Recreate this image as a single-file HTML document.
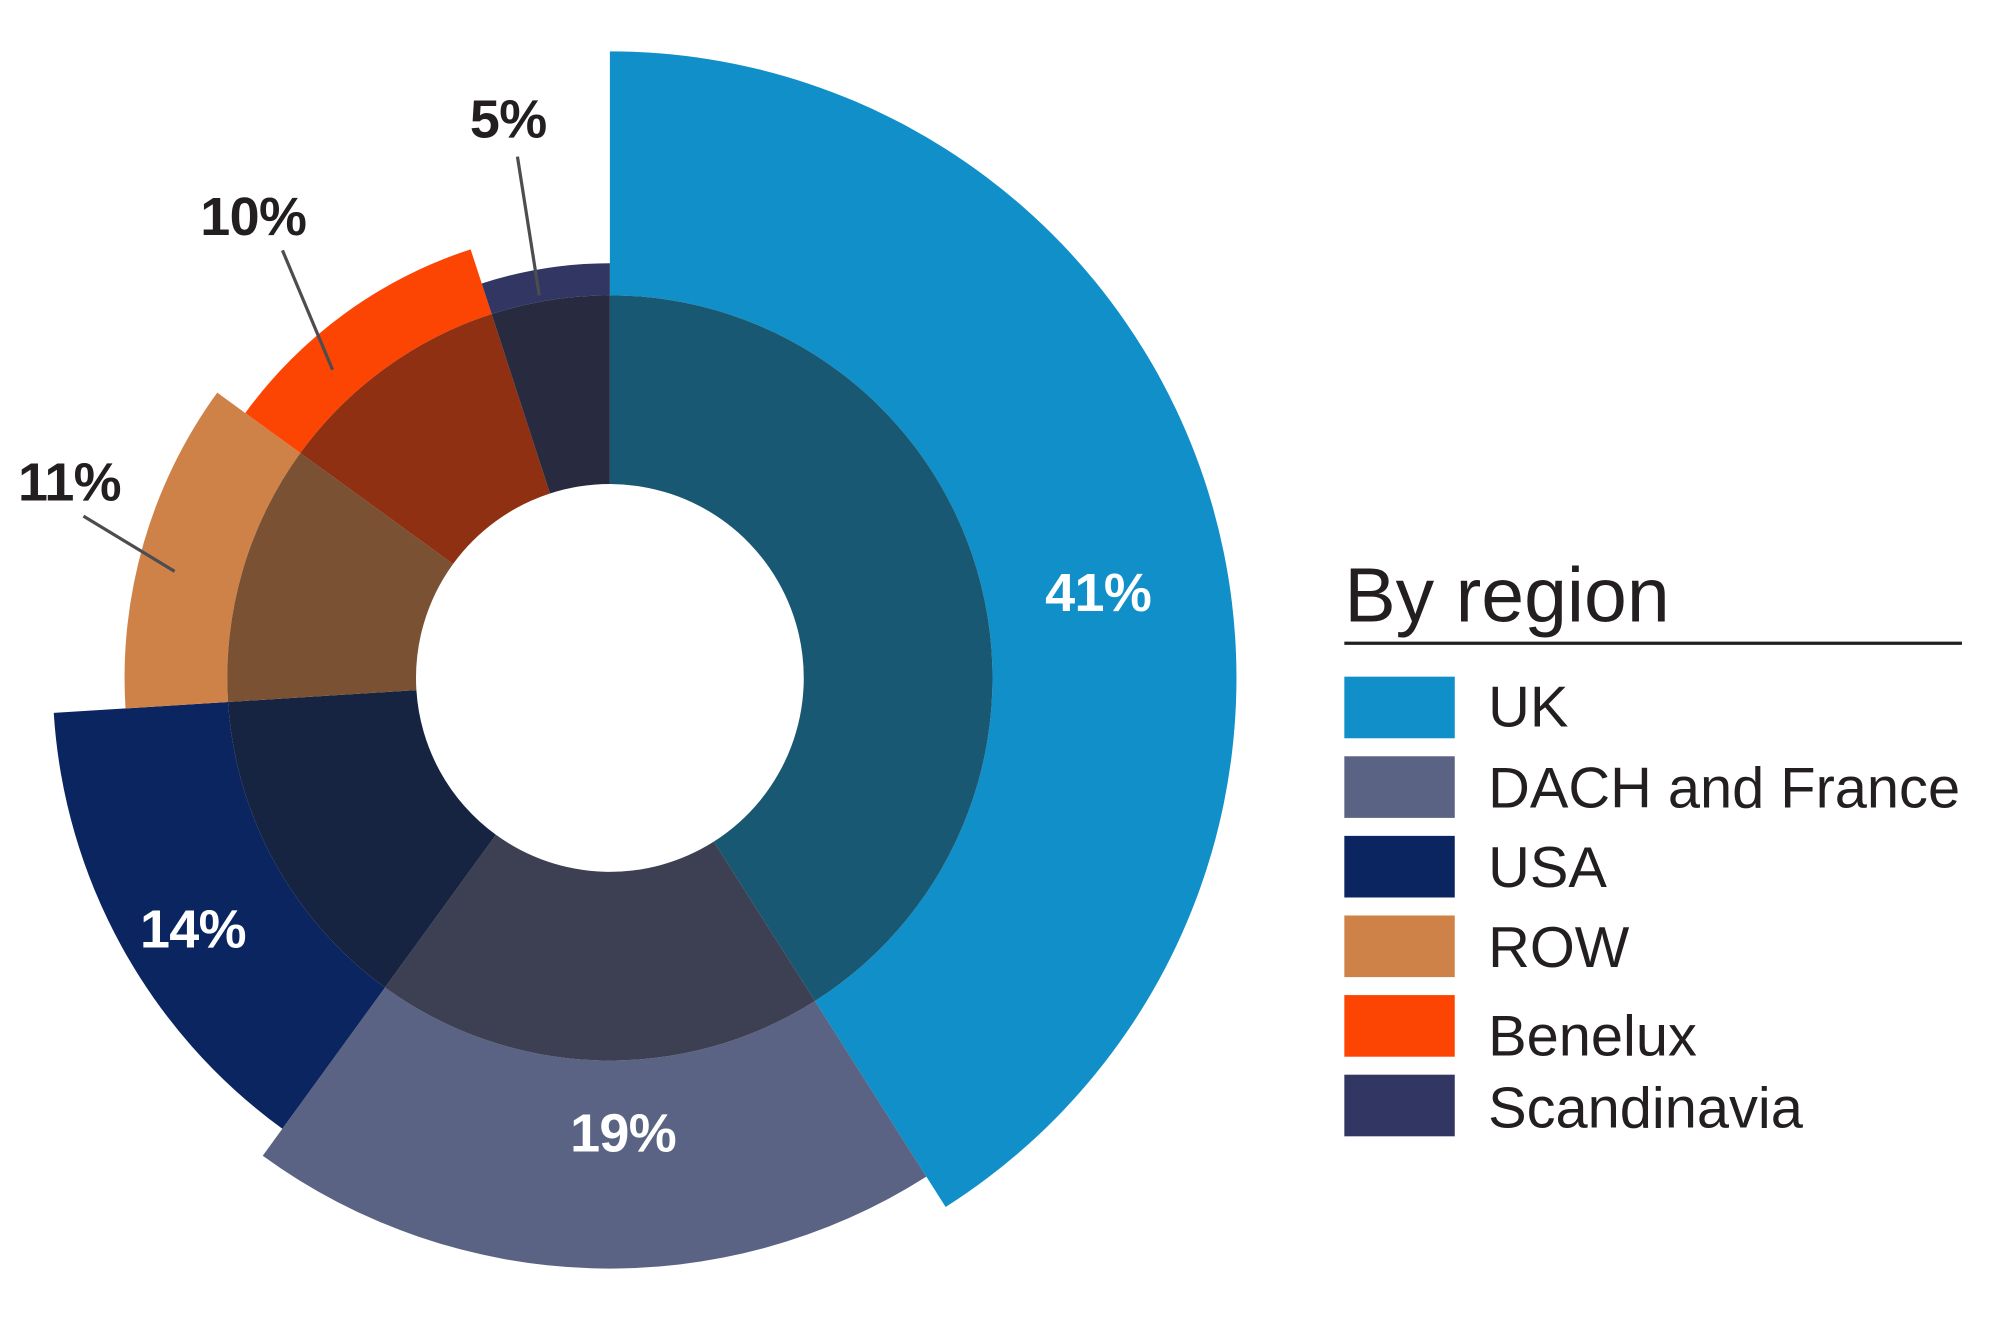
<!DOCTYPE html>
<html><head><meta charset="utf-8"><style>
html,body{margin:0;padding:0;background:#fff;}
svg{display:block;}
.lbl{font-family:"Liberation Sans",sans-serif;font-weight:bold;font-size:42px;letter-spacing:-0.5px;}
.leg{font-family:"Liberation Sans",sans-serif;font-size:45px;fill:#231f20;}
</style></head><body>
<svg id="s" width="2012" height="1318" viewBox="0 0 1567 1026.5" preserveAspectRatio="none" xmlns="http://www.w3.org/2000/svg">
<g id="g"></g>
<line x1="403" y1="122" x2="420" y2="230" stroke="#4d4d4f" stroke-width="2.5"/>
<line x1="220" y1="195" x2="259" y2="288" stroke="#4d4d4f" stroke-width="2.5"/>
<line x1="65" y1="402" x2="136" y2="445" stroke="#4d4d4f" stroke-width="2.5"/>
<text class="lbl" x="366" y="107" fill="#231f20">5%</text>
<text class="lbl" x="156" y="183" fill="#231f20">10%</text>
<text class="lbl" x="14" y="390" fill="#231f20">11%</text>
<text class="lbl" x="814" y="476" fill="#fff">41%</text>
<text class="lbl" x="109" y="738" fill="#fff">14%</text>
<text class="lbl" x="444" y="897" fill="#fff">19%</text>
<text x="1047" y="484" style="font-family:'Liberation Sans',sans-serif;font-size:60px;fill:#231f20">By region</text>
<line x1="1047" y1="501" x2="1528" y2="501" stroke="#231f20" stroke-width="2.5"/>
<rect x="1047" y="527" width="86" height="48" fill="#118fc9"/>
<rect x="1047" y="589" width="86" height="48" fill="#5a6383"/>
<rect x="1047" y="651" width="86" height="48" fill="#0b2560"/>
<rect x="1047" y="713" width="86" height="48" fill="#cf8248"/>
<rect x="1047" y="775" width="86" height="48" fill="#fd4503"/>
<rect x="1047" y="837" width="86" height="48" fill="#323662"/>
<text class="leg" x="1159" y="566">UK</text>
<text class="leg" x="1159" y="629">DACH and France</text>
<text class="leg" x="1159" y="691">USA</text>
<text class="leg" x="1159" y="753">ROW</text>
<text class="leg" x="1159" y="822">Benelux</text>
<text class="leg" x="1159" y="878">Scandinavia</text>
</svg>
<script>
var cx=475,cy=528;
function pt(r,a){var t=a*Math.PI/180;return [cx+r*Math.sin(t),cy-r*Math.cos(t)];}
function arc(r0,r1,a0,a1){var l=(a1-a0)>180?1:0;var p1=pt(r1,a0),p2=pt(r1,a1),p3=pt(r0,a1),p4=pt(r0,a0);
return "M"+p1+" A"+r1+","+r1+" 0 "+l+" 1 "+p2+" L"+p3+" A"+r0+","+r0+" 0 "+l+" 0 "+p4+"Z";}
var segs=[[0,147.6,488,"#118fc9","#185872"],[147.6,216,460,"#5a6383","#3d3f52"],[216,266.4,434,"#0b2560","#172441"],
[266.4,306,378,"#cf8248","#7a5133"],[306,342,351,"#fd4503","#8f3012"],[342,360,323,"#323662","#282b40"]];
var h="";segs.forEach(function(s){h+='<path d="'+arc(298,s[2],s[0],s[1])+'" fill="'+s[3]+'"/>';
h+='<path d="'+arc(151,298,s[0],s[1])+'" fill="'+s[4]+'"/>';});
document.getElementById("g").innerHTML=h;
</script>
</body></html>
